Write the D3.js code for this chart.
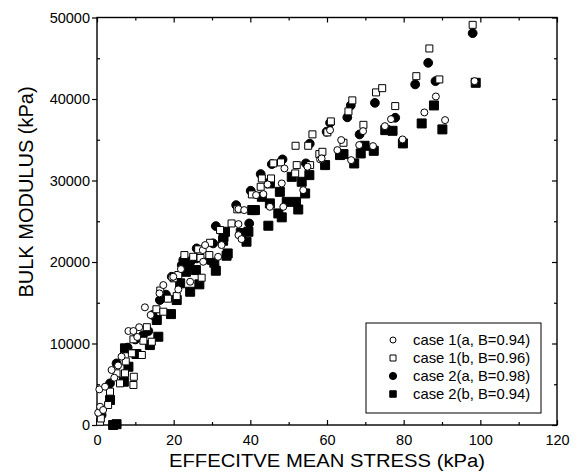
<!DOCTYPE html>
<html>
<head>
<meta charset="utf-8">
<script src="https://cdn.jsdelivr.net/npm/d3@7"></script>
<style>
  body { margin: 0; background: #fff; }
  svg { font-family: "Liberation Sans", Arial, sans-serif; }
</style>
</head>
<body>
<div id="viz"></div>
<script>
// effective mean stress (kPa), bulk modulus (kPa)
const case1a = [
  [0.3, 1500], [0.6, 4370], [0.8, 2240], [1.6, 1840], [2.1, 4700], [3.8, 6750], [4.5, 5800],
  [5.5, 7300], [6.4, 8390], [8.2, 11530], [9.5, 11530], [10.5, 10800], [11, 12000], [12.5, 14440],
  [14, 13500], [16.3, 16150], [17.3, 17170], [19.5, 18110], [19.9, 18190], [21.2, 16640],
  [21.9, 19130], [24.3, 17580], [27.6, 21460], [27.7, 20030], [28.2, 22080], [31.6, 20640],
  [32.5, 22080], [36.9, 23300], [36.9, 24650], [37.7, 22810], [36.9, 26490], [38.4, 26370],
  [41.5, 28210], [43.4, 28330], [44.5, 29520], [45.1, 26770], [48.2, 29640], [48.6, 26770],
  [48.9, 31480], [53.8, 28820], [54.9, 31690], [58.2, 32590], [58.6, 32710], [60.8, 36180],
  [62.7, 33730], [63.7, 34960], [66.3, 32500], [68.4, 34350], [69.4, 36060], [72.0, 34220],
  [75.1, 36670], [76.7, 37530], [79.7, 35040], [85.4, 38350], [88.4, 40310], [90.8, 37410],
  [98.5, 42190]
];
const case1b = [
  [0.8, 400], [1.0, 800], [2.9, 2450], [3.4, 4090], [5.1, 6340], [6.0, 5110], [7.3, 6340],
  [7.5, 7800], [9.1, 8790], [9.5, 4910], [9.6, 5920], [9.5, 10510], [11.7, 8590], [12.1, 10340],
  [13, 12000], [14.3, 10220], [15.5, 14200], [17.3, 13900], [16.5, 16500], [18.5, 15500],
  [20.8, 15820], [20, 18000], [21.2, 18400], [22.8, 20850], [25.1, 20640], [26.4, 21550],
  [27.3, 18070], [27, 20500], [29.3, 20850], [29.5, 22360], [32.1, 23920], [35.1, 24730],
  [36.6, 26460], [40.4, 28290], [42.7, 29230], [43, 30250], [45.4, 30250], [46, 32100],
  [48, 32220], [51.7, 30870], [52.1, 31890], [51.8, 34260], [55.1, 34260], [55.6, 31890],
  [56.2, 35660], [58.0, 33240], [58.8, 33520], [60.1, 35900], [61.0, 37250], [64.3, 34630],
  [65.6, 38480], [66.6, 39830], [69.5, 36830], [72.8, 40810], [74.4, 41330], [77.8, 39130],
  [83.3, 42800], [86.7, 46200], [89.3, 42400], [98, 49100]
];
const case2a = [
  [1.2, 1230], [3.4, 5110], [5.1, 7560], [8, 9500], [10, 10500], [12, 11000], [13.4, 11530],
  [14.5, 13500], [16.4, 15330], [18, 16000], [19.5, 18190], [22.1, 19620], [22.5, 20240],
  [24.7, 20240], [26, 20440], [26.0, 21670], [29.2, 20240], [30.3, 22280], [31, 24410],
  [36.3, 26980], [39.7, 24730], [40.1, 28740], [42.7, 30790], [45.6, 32010], [48.4, 32590],
  [54.5, 32100], [55.5, 34520], [59.9, 35980], [60.8, 37080], [65.3, 37750], [66.2, 39210],
  [68.5, 35650], [72.5, 39530], [77.8, 37700], [83, 41790], [86.4, 44440], [88.3, 42190],
  [98, 48080]
];
const case2b = [
  [4.2, 0], [5.1, 100], [3.4, 3070], [7.0, 5310], [8.2, 7150], [7.3, 9410], [10.3, 8710],
  [13.8, 9810], [16.0, 10830], [15.6, 12880], [19.3, 13610], [20.8, 15330], [21.7, 17380],
  [24.3, 16350], [23.2, 18800], [24.1, 19620], [25.8, 19010], [26.7, 17260], [30.6, 19910],
  [31.0, 18930], [33, 23100], [33.4, 23710], [32.9, 22610], [34.1, 21050], [33.8, 20770],
  [37.5, 23550], [39.0, 22490], [39.5, 23710], [40.5, 26370], [41.2, 26370], [43.0, 28000],
  [44.7, 24450], [45.1, 27190], [45.1, 29640], [47.7, 28610], [47.3, 25960], [48.2, 25480],
  [49.5, 27380], [50.8, 30450], [51.9, 27380], [52.5, 26440], [53.4, 29840], [54.3, 28410],
  [55.4, 30660], [59.5, 31890], [63.4, 33120], [64.3, 33240], [67.1, 32090], [68.8, 33320],
  [69.8, 34260], [72.2, 33640], [75.2, 36180], [77.1, 36100], [79.8, 34550], [84.7, 37000],
  [87.9, 39210], [90.1, 36270], [98.8, 41990]
];
const legendLabels = ['case 1(a, B=0.94)', 'case 1(b, B=0.96)', 'case 2(a, B=0.98)', 'case 2(b, B=0.94)'];
const xTicks = [0, 20, 40, 60, 80, 100, 120];
const yTicks = [0, 10000, 20000, 30000, 40000, 50000];

const width = 575;
const height = 476;
const margin = { top: 17.5, right: 18, bottom: 51, left: 97 };
const innerW = width - margin.left - margin.right;
const innerH = height - margin.top - margin.bottom;

const x = d3.scaleLinear().domain([0, 120]).range([0, innerW]);
const y = d3.scaleLinear().domain([0, 50000]).range([innerH, 0]);

const svg = d3
  .select('#viz')
  .append('svg')
  .attr('width', width)
  .attr('height', height);

const g = svg.append('g').attr('transform', `translate(${margin.left},${margin.top})`);

const xMinor = d3.range(10, 120, 20);
const yMinor = d3.range(5000, 50000, 10000);

const styleAxis = sel => {
  sel.select('.domain').remove();
  sel.selectAll('line').attr('stroke', '#000').attr('stroke-width', 1.2);
  sel.selectAll('text').attr('font-size', 14.5).attr('fill', '#000')
    .attr('font-family', '"Liberation Sans", Arial, sans-serif');
};

// bottom
g.append('g').attr('transform', `translate(0,${innerH})`)
  .call(d3.axisBottom(x).tickValues(xTicks).tickSize(-5).tickPadding(10).tickFormat(d3.format('d')))
  .call(styleAxis);
g.append('g').attr('transform', `translate(0,${innerH})`)
  .call(d3.axisBottom(x).tickValues(xMinor).tickSize(-3).tickFormat(''))
  .call(styleAxis);
// top
g.append('g')
  .call(d3.axisTop(x).tickValues(xTicks).tickSize(-5).tickFormat(''))
  .call(styleAxis);
g.append('g')
  .call(d3.axisTop(x).tickValues(xMinor).tickSize(-3).tickFormat(''))
  .call(styleAxis);
// left
g.append('g')
  .call(d3.axisLeft(y).tickValues(yTicks).tickSize(5).tickPadding(2).tickFormat(d3.format('d')))
  .call(styleAxis);
g.append('g')
  .call(d3.axisLeft(y).tickValues(yMinor).tickSize(-3).tickFormat(''))
  .call(styleAxis);
// right
g.append('g').attr('transform', `translate(${innerW},0)`)
  .call(d3.axisRight(y).tickValues(yTicks).tickSize(-5).tickFormat(''))
  .call(styleAxis);
g.append('g').attr('transform', `translate(${innerW},0)`)
  .call(d3.axisRight(y).tickValues(yMinor).tickSize(-3).tickFormat(''))
  .call(styleAxis);

// frame
g.append('rect')
  .attr('width', innerW)
  .attr('height', innerH)
  .attr('fill', 'none')
  .attr('stroke', '#000')
  .attr('stroke-width', 1.4);

const symbols = {
  openCircle: { shape: d3.symbolCircle, size: Math.PI * 3.5 * 3.5, fill: '#fff' },
  openSquare: { shape: d3.symbolSquare, size: 7 * 7, fill: '#fff' },
  fillCircle: { shape: d3.symbolCircle, size: Math.PI * 4.4 * 4.4, fill: '#000' },
  fillSquare: { shape: d3.symbolSquare, size: 9 * 9, fill: '#000' }
};

const series = [
  { data: case2b, sym: symbols.fillSquare },
  { data: case2a, sym: symbols.fillCircle },
  { data: case1b, sym: symbols.openSquare },
  { data: case1a, sym: symbols.openCircle }
];

series.forEach(s => {
  g.append('g')
    .selectAll('path')
    .data(s.data)
    .enter()
    .append('path')
    .attr('d', d3.symbol().type(s.sym.shape).size(s.sym.size))
    .attr('transform', d => `translate(${x(d[0])},${y(d[1])})`)
    .attr('fill', s.sym.fill)
    .attr('stroke', '#000')
    .attr('stroke-width', 1);
});

// legend
const legend = svg.append('g').attr('transform', 'translate(366,323)');
legend.append('rect')
  .attr('width', 175)
  .attr('height', 90)
  .attr('fill', '#fff')
  .attr('stroke', '#000')
  .attr('stroke-width', 1);

const legendSyms = [
  { shape: d3.symbolCircle, size: Math.PI * 3 * 3, fill: '#fff' },
  { shape: d3.symbolSquare, size: 36, fill: '#fff' },
  { shape: d3.symbolCircle, size: Math.PI * 3.6 * 3.6, fill: '#000' },
  { shape: d3.symbolSquare, size: 42, fill: '#000' }
];

legendLabels.forEach((label, i) => {
  const row = legend.append('g').attr('transform', `translate(0,${17 + i * 18})`);
  row.append('path')
    .attr('d', d3.symbol().type(legendSyms[i].shape).size(legendSyms[i].size))
    .attr('transform', 'translate(27,0)')
    .attr('fill', legendSyms[i].fill)
    .attr('stroke', '#000')
    .attr('stroke-width', 1);
  row.append('text')
    .attr('x', 47)
    .attr('dy', '0.36em')
    .attr('font-size', 14.8)
    .text(label);
});

// axis titles
svg.append('text')
  .attr('x', margin.left + innerW / 2)
  .attr('y', 467)
  .attr('text-anchor', 'middle')
  .attr('font-size', 18)
  .attr('textLength', 316)
  .attr('lengthAdjust', 'spacingAndGlyphs')
  .text('EFFECITVE MEAN STRESS (kPa)');

svg.append('text')
  .attr('transform', 'translate(33,192) rotate(-90)')
  .attr('text-anchor', 'middle')
  .attr('font-size', 20)
  .text('BULK MODULUS (kPa)');
</script>
</body>
</html>
